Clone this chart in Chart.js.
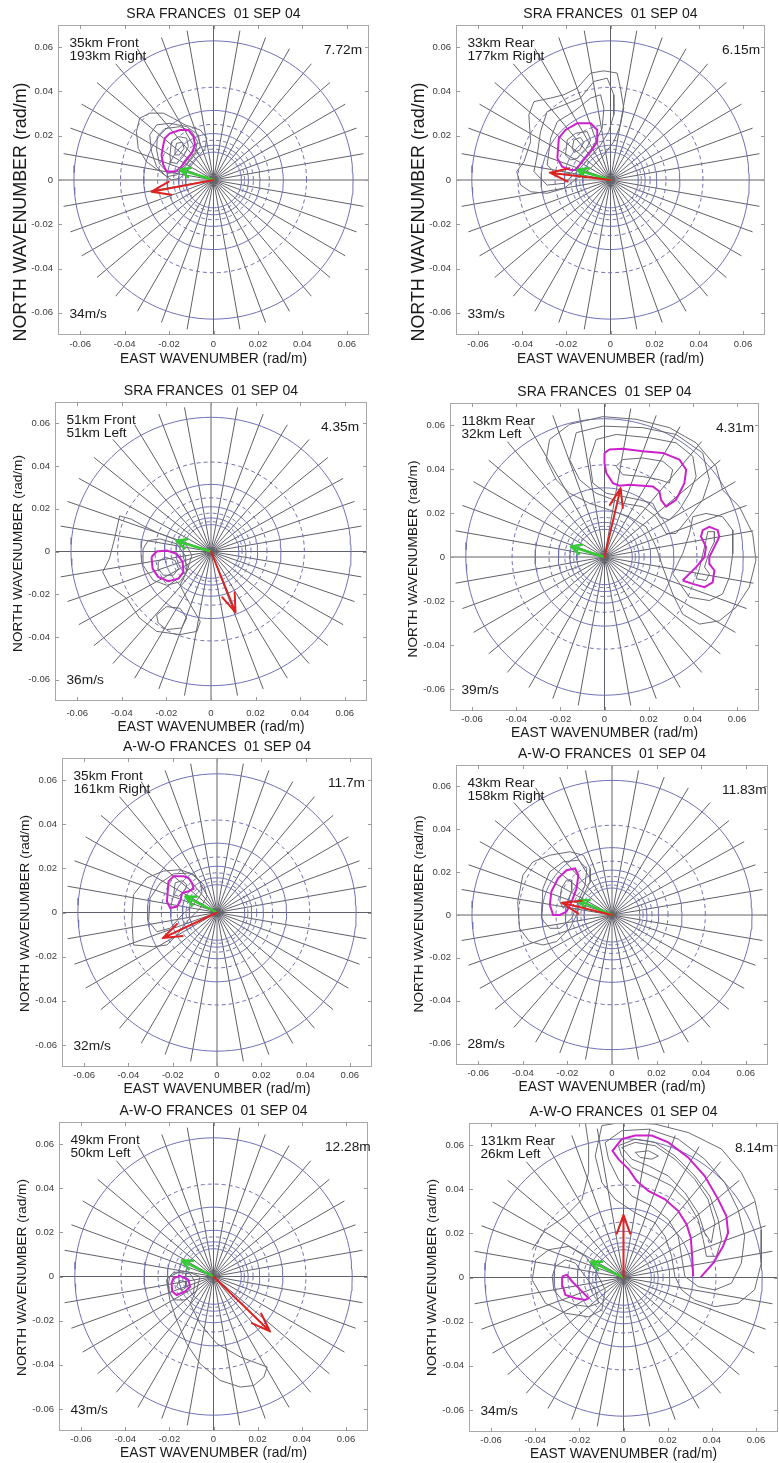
<!DOCTYPE html>
<html><head><meta charset="utf-8">
<script src="https://cdn.jsdelivr.net/npm/chart.js@4.4.0/dist/chart.umd.min.js"></script>
<style>
html,body{margin:0;padding:0;background:#fff;overflow:hidden;}
#page{position:relative;width:779px;height:1463px;overflow:hidden;background:#fff;}
#page canvas{position:absolute;}
</style></head><body><div id="page"></div>
<script>
// ---------------- DATA ----------------
const tickValues = [-0.06, -0.04, -0.02, 0, 0.02, 0.04, 0.06];
const tickLabels = ['-0.06', '-0.04', '-0.02', '0', '0.02', '0.04', '0.06'];
const axisMin = -0.07, axisMax = 0.07;
const gridWavelengths = [100, 150, 200, 250, 300, 350, 400, 450, 500]; // metres -> k = 2*pi/L
const gridDashed = [false, true, false, true, false, true, false, true, false];
const radialAnglesDeg = [10, 20, 30, 40, 50, 60, 70, 80, 100, 110, 120, 130, 140, 150, 160, 170];
const radialExtent = 0.0685;

const titles = ['SRA FRANCES  01 SEP 04', 'SRA FRANCES  01 SEP 04', 'SRA FRANCES  01 SEP 04', 'SRA FRANCES  01 SEP 04',
  'A-W-O FRANCES  01 SEP 04', 'A-W-O FRANCES  01 SEP 04', 'A-W-O FRANCES  01 SEP 04', 'A-W-O FRANCES  01 SEP 04'];
const posLine1 = ['35km Front', '33km Rear', '51km Front', '118km Rear', '35km Front', '43km Rear', '49km Front', '131km Rear'];
const posLine2 = ['193km Right', '177km Right', '51km Left', '32km Left', '161km Right', '158km Right', '50km Left', '26km Left'];
const waveHeights = ['7.72m', '6.15m', '4.35m', '4.31m', '11.7m', '11.83m', '12.28m', '8.14m'];
const windSpeeds = ['34m/s', '33m/s', '36m/s', '39m/s', '32m/s', '28m/s', '43m/s', '34m/s'];
const xTitle = 'EAST WAVENUMBER (rad/m)';
const yTitle = 'NORTH WAVENUMBER (rad/m)';

// arrow tips (east, north wavenumber)
const greenArrowTips = [[-0.0151, 0.0047], [-0.0150, 0.0045], [-0.0155, 0.0050], [-0.0152, 0.0048],
  [-0.0143, 0.0072], [-0.0150, 0.0068], [-0.0143, 0.0072], [-0.0146, 0.0072]];
const redArrowTips = [[-0.0279, -0.0053], [-0.0275, 0.0033], [0.0110, -0.0285], [0.0073, 0.0313],
  [-0.0245, -0.0116], [-0.0226, 0.0057], [0.0256, -0.0249], [0.0, 0.0284]];

// contours (east, north)
const greyContours1 = [
  [[-0.0339,0.0143],[-0.0347,0.0219],[-0.0332,0.0279],[-0.0287,0.0302],[-0.0226,0.0302],[-0.0181,0.0279],[-0.0128,0.0249],[-0.0060,0.0226],[-0.0030,0.0189],[-0.0038,0.0143],[-0.0075,0.0098],[-0.0121,0.0038],[-0.0151,0.0008],[-0.0189,0.0],[-0.0241,0.0038],[-0.0302,0.0083]],
  [[-0.0279,0.0128],[-0.0287,0.0204],[-0.0256,0.0249],[-0.0196,0.0256],[-0.0121,0.0241],[-0.0068,0.0204],[-0.0060,0.0151],[-0.0090,0.0106],[-0.0128,0.0060],[-0.0166,0.0023],[-0.0211,0.0015],[-0.0256,0.0060]],
  [[-0.0256,0.0136],[-0.0253,0.0196],[-0.0219,0.0232],[-0.0151,0.0241],[-0.0098,0.0219],[-0.0072,0.0173],[-0.0083,0.0125],[-0.0121,0.0075],[-0.0158,0.0038],[-0.0204,0.0030],[-0.0244,0.0075]],
  [[-0.0196,0.0113],[-0.0189,0.0173],[-0.0158,0.0196],[-0.0121,0.0189],[-0.0113,0.0151],[-0.0136,0.0106],[-0.0166,0.0075],[-0.0193,0.0080]],
  [[-0.0173,0.0136],[-0.0166,0.0166],[-0.0139,0.0170],[-0.0133,0.0143],[-0.0154,0.0113],[-0.0170,0.0113]]
];
const magContours1 = [
  [[-0.0226,0.0158],[-0.0219,0.0189],[-0.0196,0.0211],[-0.0151,0.0226],[-0.0113,0.0226],[-0.0090,0.0196],[-0.0083,0.0158],[-0.0098,0.0121],[-0.0128,0.0083],[-0.0151,0.0053],[-0.0173,0.0038],[-0.0211,0.0038],[-0.0226,0.0068],[-0.0234,0.0113]]
];
const greyContours2 = [
  [[-0.0407,-0.0023],[-0.0425,0.0038],[-0.0392,0.0083],[-0.0362,0.0173],[-0.0370,0.0294],[-0.0347,0.0354],[-0.0271,0.0370],[-0.0211,0.0385],[-0.0151,0.0415],[-0.0090,0.0483],[-0.0030,0.0493],[0.0030,0.0483],[0.0045,0.0415],[0.0060,0.0324],[0.0045,0.0249],[0.0015,0.0173],[-0.0030,0.0113],[-0.0090,0.0053],[-0.0151,0.0008],[-0.0211,-0.0038],[-0.0287,-0.0060],[-0.0362,-0.0053]],
  [[-0.0347,0.0038],[-0.0332,0.0113],[-0.0317,0.0219],[-0.0287,0.0309],[-0.0211,0.0339],[-0.0136,0.0370],[-0.0075,0.0445],[-0.0015,0.0460],[0.0015,0.0385],[0.0015,0.0294],[-0.0008,0.0219],[-0.0045,0.0158],[-0.0098,0.0098],[-0.0151,0.0038],[-0.0211,-0.0015],[-0.0287,-0.0023]],
  [[-0.0287,0.0068],[-0.0271,0.0189],[-0.0241,0.0264],[-0.0166,0.0309],[-0.0090,0.0370],[-0.0045,0.0385],[-0.0030,0.0324],[-0.0038,0.0234],[-0.0075,0.0158],[-0.0128,0.0083],[-0.0181,0.0030],[-0.0241,0.0023]],
  [[-0.0204,0.0113],[-0.0196,0.0181],[-0.0158,0.0211],[-0.0106,0.0219],[-0.0090,0.0181],[-0.0113,0.0136],[-0.0151,0.0098],[-0.0181,0.0090]],
  [[-0.0173,0.0143],[-0.0166,0.0181],[-0.0136,0.0192],[-0.0121,0.0170],[-0.0139,0.0136],[-0.0164,0.0125]]
];
const magContours2 = [
  [[-0.0241,0.0098],[-0.0234,0.0189],[-0.0204,0.0226],[-0.0151,0.0256],[-0.0090,0.0256],[-0.0060,0.0226],[-0.0060,0.0173],[-0.0090,0.0128],[-0.0128,0.0083],[-0.0158,0.0045],[-0.0181,0.0045],[-0.0219,0.0060]]
];
const greyContours3 = [
  [[-0.0410,0.0167],[-0.0357,0.0151],[-0.0305,0.0121],[-0.0244,0.0090],[-0.0169,0.0059],[-0.0109,0.0028],[-0.0086,-0.0019],[-0.0109,-0.0096],[-0.0139,-0.0158],[-0.0109,-0.0219],[-0.0048,-0.0328],[-0.0063,-0.0374],[-0.0139,-0.0389],[-0.0244,-0.0374],[-0.0320,-0.0312],[-0.0380,-0.0219],[-0.0456,-0.0158],[-0.0486,-0.0096],[-0.0456,-0.0034],[-0.0433,0.0059]],
  [[-0.0244,-0.0297],[-0.0199,-0.0258],[-0.0139,-0.0266],[-0.0109,-0.0312],[-0.0132,-0.0358],[-0.0199,-0.0366],[-0.0237,-0.0335]],
  [[-0.0305,0.0012],[-0.0282,0.0051],[-0.0229,0.0059],[-0.0154,0.0036],[-0.0116,-0.0019],[-0.0109,-0.0096],[-0.0139,-0.0142],[-0.0199,-0.0158],[-0.0259,-0.0135],[-0.0305,-0.0065]],
  [[-0.0237,-0.0049],[-0.0207,-0.0026],[-0.0161,-0.0042],[-0.0146,-0.0080],[-0.0169,-0.0111],[-0.0214,-0.0111],[-0.0237,-0.0080]]
];
const magContours3 = [
  [[-0.0267,-0.0026],[-0.0244,0.0],[-0.0199,0.0005],[-0.0154,-0.0011],[-0.0127,-0.0049],[-0.0124,-0.0096],[-0.0146,-0.0127],[-0.0192,-0.0139],[-0.0237,-0.0119],[-0.0262,-0.0080]]
];
const greyContours4 = [
  [[-0.0264,0.0443],[-0.0249,0.0534],[-0.0158,0.0603],[-0.0008,0.0638],[0.0143,0.0626],[0.0294,0.0588],[0.0415,0.0519],[0.0505,0.0412],[0.0535,0.0305],[0.0611,0.0229],[0.0671,0.0107],[0.0686,-0.0015],[0.0656,-0.0137],[0.0596,-0.0229],[0.0520,-0.0290],[0.0430,-0.0305],[0.0354,-0.0260],[0.0309,-0.0168],[0.0264,-0.0046],[0.0234,0.0046],[0.0189,0.0137],[0.0113,0.0183],[0.0023,0.0214],[-0.0068,0.0244],[-0.0158,0.0290],[-0.0219,0.0351]],
  [[-0.0158,0.0443],[-0.0128,0.0565],[-0.0008,0.0595],[0.0173,0.0588],[0.0324,0.0557],[0.0445,0.0473],[0.0475,0.0351],[0.0445,0.0260],[0.0385,0.0183],[0.0324,0.0107],[0.0279,0.0107],[0.0234,0.0183],[0.0173,0.0229],[0.0083,0.0244],[-0.0038,0.0290],[-0.0113,0.0351]],
  [[-0.0068,0.0443],[-0.0038,0.0534],[0.0053,0.0557],[0.0204,0.0542],[0.0324,0.0519],[0.0400,0.0458],[0.0415,0.0366],[0.0385,0.0290],[0.0339,0.0214],[0.0294,0.0168],[0.0249,0.0183],[0.0219,0.0244],[0.0158,0.0260],[0.0083,0.0275],[0.0008,0.0290],[-0.0053,0.0336]],
  [[0.0309,-0.0076],[0.0354,0.0015],[0.0385,0.0107],[0.0400,0.0183],[0.0460,0.0198],[0.0535,0.0183],[0.0581,0.0122],[0.0581,0.0015],[0.0566,-0.0092],[0.0535,-0.0168],[0.0475,-0.0198],[0.0385,-0.0183]],
  [[0.0053,0.0412],[0.0083,0.0443],[0.0173,0.0450],[0.0264,0.0435],[0.0309,0.0397],[0.0294,0.0336],[0.0249,0.0351],[0.0173,0.0366],[0.0083,0.0374]],
  [[0.0460,0.0076],[0.0468,0.0115],[0.0498,0.0115],[0.0498,0.0069],[0.0475,0.0023],[0.0453,-0.0046],[0.0475,-0.0076],[0.0460,-0.0107],[0.0415,-0.0099],[0.0430,-0.0053]]
];
const magContours4 = [
  [[0.0,0.0473],[0.0023,0.0489],[0.0083,0.0492],[0.0173,0.0481],[0.0264,0.0473],[0.0339,0.0443],[0.0370,0.0397],[0.0362,0.0336],[0.0324,0.0260],[0.0279,0.0229],[0.0256,0.0260],[0.0249,0.0298],[0.0219,0.0321],[0.0173,0.0324],[0.0113,0.0328],[0.0068,0.0324],[0.0038,0.0336],[0.0008,0.0382],[0.0,0.0427]],
  [[0.0354,-0.0107],[0.0415,-0.0046],[0.0453,0.0],[0.0460,0.0046],[0.0437,0.0092],[0.0445,0.0122],[0.0475,0.0137],[0.0513,0.0122],[0.0520,0.0092],[0.0498,0.0046],[0.0475,0.0],[0.0475,-0.0031],[0.0498,-0.0061],[0.0490,-0.0115],[0.0453,-0.0137],[0.0400,-0.0122]]
];
const greyContours5 = [
  [[-0.0377,-0.0147],[-0.0385,-0.0041],[-0.0377,0.0081],[-0.0317,0.0157],[-0.0241,0.0188],[-0.0166,0.0194],[-0.0106,0.0172],[-0.0060,0.0126],[-0.0045,0.0073],[-0.0075,0.0020],[-0.0136,-0.0041],[-0.0181,-0.0102],[-0.0226,-0.0147],[-0.0287,-0.0155]],
  [[-0.0309,-0.0041],[-0.0302,0.0065],[-0.0256,0.0134],[-0.0196,0.0175],[-0.0121,0.0179],[-0.0075,0.0141],[-0.0068,0.0088],[-0.0106,0.0035],[-0.0158,-0.0011],[-0.0211,-0.0071],[-0.0271,-0.0087]],
  [[-0.0196,0.0081],[-0.0189,0.0134],[-0.0158,0.0144],[-0.0136,0.0126],[-0.0143,0.0103],[-0.0173,0.0073]]
];
const magContours5 = [
  [[-0.0219,0.0141],[-0.0196,0.0164],[-0.0151,0.0164],[-0.0128,0.0156],[-0.0113,0.0134],[-0.0106,0.0108],[-0.0128,0.0096],[-0.0158,0.0088],[-0.0166,0.0050],[-0.0181,0.0027],[-0.0211,0.0020],[-0.0226,0.0050]]
];
const greyContours6 = [
  [[-0.0415,-0.0062],[-0.0423,0.0062],[-0.0400,0.0186],[-0.0355,0.0248],[-0.0279,0.0279],[-0.0189,0.0295],[-0.0128,0.0279],[-0.0098,0.0217],[-0.0098,0.0155],[-0.0128,0.0093],[-0.0159,0.0],[-0.0189,-0.0062],[-0.0249,-0.0124],[-0.0310,-0.0140],[-0.0370,-0.0124]],
  [[-0.0317,-0.0016],[-0.0310,0.0124],[-0.0279,0.0202],[-0.0219,0.0248],[-0.0151,0.0256],[-0.0113,0.0217],[-0.0121,0.0140],[-0.0151,0.0062],[-0.0181,-0.0016],[-0.0234,-0.0062],[-0.0279,-0.0062]],
  [[-0.0234,0.0062],[-0.0227,0.0124],[-0.0204,0.0163],[-0.0181,0.0163],[-0.0181,0.0116],[-0.0196,0.0062],[-0.0219,0.0031]]
];
const magContours6 = [
  [[-0.0279,0.0047],[-0.0272,0.0109],[-0.0242,0.0171],[-0.0204,0.0209],[-0.0166,0.0217],[-0.0151,0.0186],[-0.0159,0.0124],[-0.0181,0.0062],[-0.0204,0.0016],[-0.0234,0.0],[-0.0264,0.0]]
];
const greyContours7 = [
  [[-0.0213,-0.0015],[-0.0182,0.0018],[-0.0122,0.0023],[-0.0061,0.0],[-0.0076,-0.0061],[-0.0106,-0.0122],[-0.0061,-0.0213],[0.0015,-0.0304],[0.0122,-0.0365],[0.0243,-0.0410],[0.0228,-0.0456],[0.0182,-0.0494],[0.0122,-0.0501],[0.0030,-0.0471],[-0.0061,-0.0395],[-0.0122,-0.0304],[-0.0167,-0.0198],[-0.0198,-0.0106]],
  [[-0.0205,-0.0038],[-0.0198,0.0],[-0.0160,0.0018],[-0.0106,0.0012],[-0.0084,-0.0023],[-0.0091,-0.0076],[-0.0129,-0.0106],[-0.0175,-0.0106],[-0.0201,-0.0076]],
  [[-0.0167,-0.0046],[-0.0155,-0.0018],[-0.0129,-0.0023],[-0.0125,-0.0049],[-0.0144,-0.0064]]
];
const magContours7 = [
  [[-0.0190,-0.0030],[-0.0182,-0.0008],[-0.0152,0.0003],[-0.0114,-0.0015],[-0.0106,-0.0046],[-0.0129,-0.0068],[-0.0167,-0.0084],[-0.0187,-0.0068]]
];
const greyContours8 = [
  [[-0.0098,0.0688],[-0.0008,0.0703],[0.0143,0.0695],[0.0293,0.0657],[0.0444,0.0582],[0.0534,0.0475],[0.0594,0.0354],[0.0624,0.0217],[0.0624,0.0065],[0.0594,-0.0056],[0.0519,-0.0117],[0.0414,-0.0132],[0.0323,-0.0102],[0.0263,-0.0056],[0.0233,0.0005],[0.0218,0.0096],[0.0188,0.0187],[0.0143,0.0248],[0.0053,0.0293],[-0.0038,0.0354],[-0.0098,0.0430],[-0.0128,0.0551]],
  [[-0.0083,0.0612],[-0.0008,0.0665],[0.0113,0.0672],[0.0248,0.0627],[0.0368,0.0536],[0.0459,0.0430],[0.0519,0.0308],[0.0549,0.0187],[0.0534,0.0065],[0.0489,-0.0026],[0.0414,-0.0056],[0.0338,-0.0041],[0.0278,0.0005],[0.0263,0.0096],[0.0248,0.0187],[0.0203,0.0263],[0.0128,0.0324],[0.0038,0.0369],[-0.0023,0.0445],[-0.0068,0.0536]],
  [[-0.0023,0.0597],[0.0053,0.0627],[0.0143,0.0612],[0.0233,0.0551],[0.0323,0.0460],[0.0391,0.0369],[0.0429,0.0263],[0.0444,0.0172],[0.0421,0.0096],[0.0376,0.0096],[0.0361,0.0172],[0.0338,0.0263],[0.0293,0.0339],[0.0218,0.0415],[0.0128,0.0460],[0.0038,0.0498],[-0.0008,0.0551]],
  [[-0.0008,0.0589],[0.0053,0.0612],[0.0143,0.0597],[0.0233,0.0536],[0.0323,0.0445],[0.0383,0.0354],[0.0414,0.0248],[0.0398,0.0157],[0.0368,0.0202],[0.0338,0.0293],[0.0278,0.0384],[0.0203,0.0460],[0.0113,0.0506],[0.0038,0.0536]],
  [[0.0053,0.0567],[0.0113,0.0574],[0.0158,0.0551],[0.0128,0.0536],[0.0075,0.0544]],
  [[-0.0323,0.0005],[-0.0308,0.0050],[-0.0263,0.0080],[-0.0218,0.0065],[-0.0173,0.0005],[-0.0128,-0.0056],[-0.0113,-0.0117],[-0.0158,-0.0132],[-0.0218,-0.0124],[-0.0278,-0.0102],[-0.0316,-0.0056]],
  [[-0.0414,-0.0011],[-0.0398,0.0080],[-0.0338,0.0126],[-0.0248,0.0141],[-0.0173,0.0096],[-0.0128,0.0035],[-0.0083,-0.0056],[-0.0098,-0.0147],[-0.0158,-0.0178],[-0.0263,-0.0162],[-0.0353,-0.0117]]
];
const openGreyContours8 = [
  [[-0.0414,0.0126],[-0.0353,0.0217],[-0.0263,0.0278],[-0.0188,0.0354],[-0.0158,0.0476],[-0.0158,0.0597],[-0.0173,0.0703]]
];
const magContours8 = [
  [[0.0350,0.0002],[0.0406,0.0065],[0.0451,0.0141],[0.0474,0.0202],[0.0466,0.0278],[0.0429,0.0354],[0.0368,0.0460],[0.0293,0.0544],[0.0203,0.0612],[0.0128,0.0643],[0.0053,0.0643],[-0.0008,0.0627],[-0.0050,0.0574],[-0.0023,0.0536],[0.0023,0.0491],[0.0060,0.0437],[0.0113,0.0392],[0.0188,0.0354],[0.0248,0.0301],[0.0286,0.0240],[0.0305,0.0179],[0.0311,0.0096],[0.0316,0.0005]],
  [[-0.0278,0.0005],[-0.0256,0.0012],[-0.0233,-0.0018],[-0.0195,-0.0056],[-0.0158,-0.0094],[-0.0173,-0.0102],[-0.0218,-0.0094],[-0.0263,-0.0079],[-0.0275,-0.0041]]
];
const greyContours = [greyContours1, greyContours2, greyContours3, greyContours4, greyContours5, greyContours6, greyContours7, greyContours8];
const openGreyContours = [[], [], [], [], [], [], [], openGreyContours8];
const magContours = [magContours1, magContours2, magContours3, magContours4, magContours5, magContours6, magContours7, magContours8];
const openMagContour = {7: [0]}; // panel 8 first magenta contour is open

// ---------------- LAYOUT / STYLE ----------------
const FONT = '"Liberation Sans", Arial, Helvetica, sans-serif';
const L = 58, T = 25, R = 12, B = 36;
const panels = [
  {l:58, t:25, w:311, h:310, yFont:17.9, yOff:32, tickPad:4, titlePadB:3.6},
  {l:456, t:25, w:309, h:310, yFont:17.9, yOff:32, tickPad:4, titlePadB:3.6},
  {l:55, t:402, w:312, h:299, yFont:13.6, yOff:2, tickPad:7, titlePadB:1.6},
  {l:450, t:403, w:309, h:308, yFont:13.6, yOff:2, tickPad:3, titlePadB:5.6},
  {l:62, t:758, w:310, h:309, yFont:13.6, yOff:1, tickPad:3, titlePadB:5.6},
  {l:456, t:765, w:312, h:300, yFont:13.6, yOff:-1, tickPad:3, titlePadB:5.6},
  {l:59, t:1122, w:309, h:309, yFont:13.6, yOff:1, tickPad:3, titlePadB:5.6},
  {l:469, t:1123, w:309, h:309, yFont:13.6, yOff:0, tickPad:3, titlePadB:5.6}
];
const circleColor = '#7070b6';
const radialColor = '#60606a';
const greyColor = '#6a6a74';
const magColor = '#cc22cc';
const redColor = '#dd2222';
const greenColor = '#33cc33';
const textColor = '#1a1a1a';

function toPts(arr) { return arr.map(p => ({x: p[0], y: p[1]})); }

function buildDatasets(i) {
  const ds = [];
  gridWavelengths.forEach((lam, j) => {
    const r = 2 * Math.PI / lam;
    const pts = [];
    for (let a = 0; a <= 360; a += 3) {
      const t = a * Math.PI / 180;
      pts.push({x: r * Math.cos(t), y: r * Math.sin(t)});
    }
    ds.push({data: pts, showLine: true, pointRadius: 0, borderColor: circleColor, borderWidth: 1,
      borderDash: gridDashed[j] ? [4, 3] : [], order: 5, tension: 0});
  });
  radialAnglesDeg.forEach(d => {
    const t = d * Math.PI / 180;
    ds.push({data: [{x: radialExtent * Math.cos(t), y: radialExtent * Math.sin(t)},
                    {x: -radialExtent * Math.cos(t), y: -radialExtent * Math.sin(t)}],
      showLine: true, pointRadius: 0, borderColor: radialColor, borderWidth: 1, order: 6});
  });
  ds.push({data: [{x: axisMin, y: 0}, {x: axisMax, y: 0}], showLine: true, pointRadius: 0, borderColor: radialColor, borderWidth: 1, order: 6});
  ds.push({data: [{x: 0, y: axisMin}, {x: 0, y: axisMax}], showLine: true, pointRadius: 0, borderColor: radialColor, borderWidth: 1, order: 6});
  greyContours[i].forEach(c => {
    const pts = toPts(c); pts.push(pts[0]);
    ds.push({data: pts, showLine: true, pointRadius: 0, borderColor: greyColor, borderWidth: 1, order: 3});
  });
  openGreyContours[i].forEach(c => {
    ds.push({data: toPts(c), showLine: true, pointRadius: 0, borderColor: greyColor, borderWidth: 1, order: 3});
  });
  magContours[i].forEach((c, k) => {
    const pts = toPts(c);
    const open = openMagContour[i] && openMagContour[i].includes(k);
    if (!open) pts.push(pts[0]);
    ds.push({data: pts, showLine: true, pointRadius: 0, borderColor: magColor, borderWidth: 2, order: 2});
  });
  return ds;
}

function drawArrow(ctx, xs, ys, tip, color, lw, headLen, headAng) {
  const x0 = xs.getPixelForValue(0), y0 = ys.getPixelForValue(0);
  const x1 = xs.getPixelForValue(tip[0]), y1 = ys.getPixelForValue(tip[1]);
  const a = Math.atan2(y1 - y0, x1 - x0);
  ctx.save();
  ctx.strokeStyle = color; ctx.lineWidth = lw; ctx.lineCap = 'round'; ctx.lineJoin = 'round';
  ctx.beginPath();
  ctx.moveTo(x0, y0); ctx.lineTo(x1, y1);
  ctx.moveTo(x1 - headLen * Math.cos(a - headAng), y1 - headLen * Math.sin(a - headAng));
  ctx.lineTo(x1, y1);
  ctx.lineTo(x1 - headLen * Math.cos(a + headAng), y1 - headLen * Math.sin(a + headAng));
  ctx.stroke();
  ctx.restore();
}

const decorPlugin = {
  id: 'decor',
  afterDatasetsDraw(chart, args, opts) {
    const i = opts.panel;
    const {ctx, chartArea: a, scales: {x, y}} = chart;
    ctx.save();
    ctx.beginPath(); ctx.rect(a.left, a.top, a.right - a.left, a.bottom - a.top); ctx.clip();
    drawArrow(ctx, x, y, greenArrowTips[i], greenColor, 2.5, 11, 0.45);
    drawArrow(ctx, x, y, redArrowTips[i], redColor, 2, 20, 0.34);
    ctx.restore();
  },
  afterDraw(chart, args, opts) {
    const i = opts.panel, p = panels[i];
    const {ctx, chartArea: a, scales: {x, y}} = chart;
    ctx.save();
    ctx.strokeStyle = '#a8a8a8'; ctx.lineWidth = 1;
    ctx.strokeRect(a.left + 0.5, a.top + 0.5, a.right - a.left - 1, a.bottom - a.top - 1);
    ctx.strokeStyle = '#9a9a9a';
    ctx.beginPath();
    tickValues.forEach(v => {
      const px = Math.round(x.getPixelForValue(v)) + 0.5;
      const py = Math.round(y.getPixelForValue(v)) + 0.5;
      ctx.moveTo(px, a.bottom); ctx.lineTo(px, a.bottom - 4);
      ctx.moveTo(px, a.top); ctx.lineTo(px, a.top + 4);
      ctx.moveTo(a.left, py); ctx.lineTo(a.left + 4, py);
      ctx.moveTo(a.right, py); ctx.lineTo(a.right - 4, py);
    });
    ctx.stroke();
    ctx.fillStyle = textColor;
    ctx.font = '13.7px ' + FONT;
    ctx.textBaseline = 'middle'; ctx.textAlign = 'left';
    ctx.fillText(posLine1[i], a.left + 11.5, a.top + 18.5);
    ctx.fillText(posLine2[i], a.left + 11.5, a.top + 31.5);
    ctx.fillText(waveHeights[i], a.left + 266, a.top + 25.5);
    ctx.fillText(windSpeeds[i], a.left + 11.5, a.bottom - 21);
    ctx.translate(a.left - 37, (a.top + a.bottom) / 2 + p.yOff);
    ctx.rotate(-Math.PI / 2);
    ctx.textAlign = 'center';
    ctx.font = p.yFont + 'px ' + FONT;
    ctx.fillText(yTitle, 0, 0);
    ctx.restore();
  }
};

const page = document.getElementById('page');
panels.forEach((p, i) => {
  const cv = document.createElement('canvas');
  const cw = L + p.w + R, ch = T + p.h + B;
  cv.width = cw; cv.height = ch;
  cv.style.width = cw + 'px'; cv.style.height = ch + 'px';
  cv.style.left = (p.l - L) + 'px'; cv.style.top = (p.t - T) + 'px';
  page.appendChild(cv);
  const axisCommon = {
    type: 'linear', min: axisMin, max: axisMax,
    grid: {display: false, drawTicks: false, tickLength: 0},
    border: {display: false},
    afterBuildTicks: s => { s.ticks = tickValues.map(v => ({value: v})); },
    ticks: {callback: (v, idx) => tickLabels[idx], font: {family: FONT, size: 9.5}, color: '#3a3a3a',
      maxRotation: 0, autoSkip: false}
  };
  new Chart(cv, {
    type: 'scatter',
    data: {datasets: buildDatasets(i)},
    options: {
      responsive: false, animation: false, devicePixelRatio: 1, events: [],
      layout: {padding: {left: 0, top: 0, right: R, bottom: 0}, autoPadding: false},
      plugins: {
        legend: {display: false}, tooltip: {enabled: false},
        title: {display: true, text: titles[i], fullSize: false, color: textColor,
          font: {family: FONT, size: 14, weight: 'normal', lineHeight: 1.2}, padding: {top: 6, bottom: 2.2}},
        decor: {panel: i}
      },
      scales: {
        x: Object.assign({}, axisCommon, {
          position: 'bottom',
          ticks: Object.assign({}, axisCommon.ticks, {padding: p.tickPad}),
          title: {display: true, text: xTitle, color: textColor, font: {family: FONT, size: 13.8, lineHeight: 1.2},
            padding: {top: 0, bottom: p.titlePadB}},
          afterFit: s => { s.height = B; }
        }),
        y: Object.assign({}, axisCommon, {
          position: 'left',
          ticks: Object.assign({}, axisCommon.ticks, {padding: 5}),
          title: {display: false},
          afterFit: s => { s.width = L; }
        })
      }
    },
    plugins: [decorPlugin]
  });
});
</script>
</body></html>
